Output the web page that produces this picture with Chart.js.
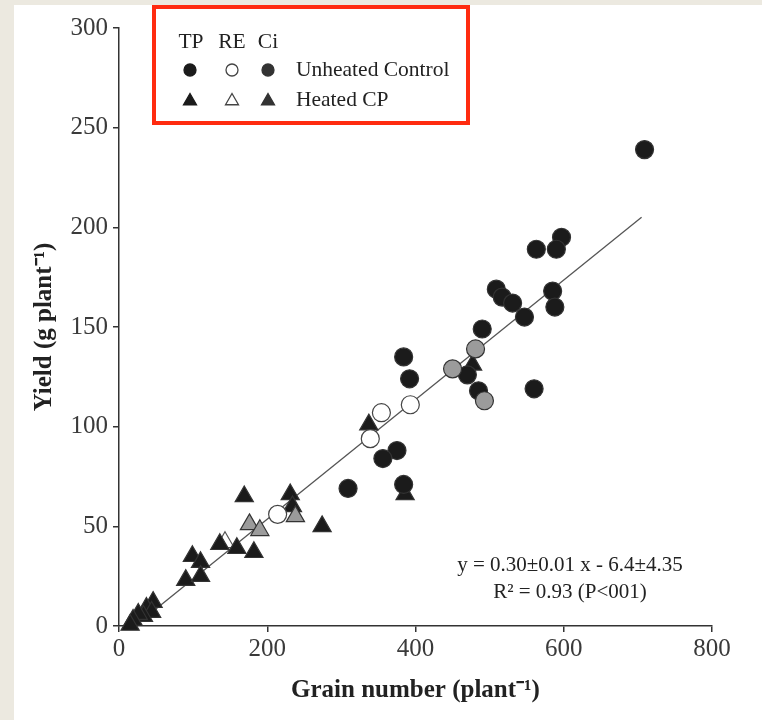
<!DOCTYPE html>
<html>
<head>
<meta charset="utf-8">
<script src="https://cdn.jsdelivr.net/npm/chart.js@4.4.0/dist/chart.umd.min.js"></script>
<style>
  html, body { margin: 0; padding: 0; background: #ece9e0; }
  #wrap { position: absolute; left: 14px; top: 5px; width: 748px; height: 715px; background: #fff; }
</style>
</head>
<body>
<div id="wrap"><canvas id="myChart" width="748" height="715"></canvas></div>
<script>
// Unheated control (circles)
const tpCtrlX = [709, 563, 597, 590, 509, 517, 531, 547, 585, 588, 490, 470, 485, 560, 384, 392, 375, 356, 309, 384];
const tpCtrlY = [239, 189, 195, 189, 169, 165, 162, 155, 168, 160, 149, 126, 118, 119, 135, 124, 88, 84, 69, 71];
const reCtrlX = [354, 393, 339, 214];
const reCtrlY = [107, 111, 94, 56];
const ciCtrlX = [450, 481, 493];
const ciCtrlY = [129, 139, 113];

// Heated CP (triangles)
const tpHeatX = [169, 231, 234, 274, 136, 159, 182, 99, 110, 90, 110, 46, 37, 44, 33, 26, 19, 15, 337, 386, 477];
const tpHeatY = [65, 66, 60, 50, 41, 39, 37, 35, 32, 23, 25, 12, 9, 7, 5, 6, 3, 0.5, 101, 66, 131];
const reHeatX = [143];
const reHeatY = [42];
const ciHeatX = [176, 190, 238];
const ciHeatY = [51, 48, 55];

// regression line end points
const fitX = [20, 705];
const fitY = [-0.4, 205];

const xTicks = [0, 200, 400, 600, 800];
const yTicks = [0, 50, 100, 150, 200, 250, 300];

function pts(xs, ys) {
  return xs.map((x, i) => ({ x: x, y: ys[i] }));
}

const serif = '"Liberation Serif", "Times New Roman", serif';
const BLACK = '#1b1b1b';
const GRAY = '#9b9b9b';

// legend box + equation
const extras = {
  id: 'extras',
  afterDraw(chart) {
    const ctx = chart.ctx;
    ctx.save();
    // red box
    ctx.strokeStyle = '#ff2b10';
    ctx.lineWidth = 4;
    ctx.strokeRect(140, 2, 314, 116);

    ctx.fillStyle = '#222';
    ctx.font = '21.5px ' + serif;
    ctx.textBaseline = 'middle';
    ctx.textAlign = 'center';
    ctx.fillText('TP', 177, 37);
    ctx.fillText('RE', 218, 37);
    ctx.fillText('Ci', 254, 37);
    ctx.textAlign = 'left';
    ctx.fillText('Unheated Control', 282, 65);
    ctx.fillText('Heated CP', 282, 95);

    const marks = [
      { x: 176, fill: BLACK, stroke: BLACK },
      { x: 218, fill: '#fff', stroke: '#444' },
      { x: 254, fill: '#333', stroke: '#333' }
    ];
    marks.forEach(m => {
      ctx.fillStyle = m.fill;
      ctx.strokeStyle = m.stroke;
      ctx.lineWidth = 1.3;
      Chart.helpers.drawPoint(ctx, { pointStyle: 'circle', radius: 6, borderWidth: 1.3 }, m.x, 65);
      Chart.helpers.drawPoint(ctx, { pointStyle: 'triangle', radius: 7.5, borderWidth: 1.3 }, m.x, 96);
    });

    // equation
    ctx.fillStyle = '#222';
    ctx.textAlign = 'center';
    ctx.font = '21px ' + serif;
    ctx.fillText('y = 0.30\u00b10.01 x - 6.4\u00b14.35', 556, 560);
    ctx.fillText('R\u00b2 = 0.93 (P<001)', 556, 587);
    ctx.restore();
  }
};

function circleSet(xs, ys, fill, stroke, order) {
  return {
    data: pts(xs, ys), pointStyle: 'circle', pointRadius: 9,
    backgroundColor: fill, borderColor: stroke, borderWidth: 1.2,
    clip: false, order: order
  };
}
function triSet(xs, ys, fill, stroke, order) {
  return {
    data: pts(xs, ys), pointStyle: 'triangle', pointRadius: 10.5,
    backgroundColor: fill, borderColor: stroke, borderWidth: 1.2,
    clip: false, order: order
  };
}

const ctx = document.getElementById('myChart');
new Chart(ctx, {
  type: 'scatter',
  data: {
    datasets: [
      {
        type: 'line', data: pts(fitX, fitY), borderColor: '#555', borderWidth: 1.3,
        pointRadius: 0, fill: false, order: 7
      },
      triSet(reHeatX, reHeatY, '#fff', '#555', 6),
      triSet(tpHeatX, tpHeatY, BLACK, '#333', 5),
      triSet(ciHeatX, ciHeatY, GRAY, '#333', 4),
      circleSet(tpCtrlX, tpCtrlY, BLACK, '#333', 3),
      circleSet(reCtrlX, reCtrlY, '#fff', '#444', 2),
      circleSet(ciCtrlX, ciCtrlY, GRAY, '#333', 1)
    ]
  },
  options: {
    responsive: false,
    animation: false,
    layout: { padding: { top: 23, right: 50, left: 0, bottom: 0 } },
    plugins: { legend: { display: false }, tooltip: { enabled: false } },
    scales: {
      x: {
        type: 'linear', min: 0, max: 800,
        afterBuildTicks: s => { s.ticks = xTicks.map(v => ({ value: v })); },
        afterFit: s => { s.height = 94; },
        grid: { drawOnChartArea: false, drawTicks: true, tickLength: 6, color: '#333', lineWidth: 1.5 },
        border: { display: true, color: '#333', width: 1.5 },
        ticks: { color: '#3a3a3a', padding: 2, font: { family: serif, size: 25 } },
        title: {
          display: true, text: 'Grain number (plant\u207b\u00b9)', color: '#222',
          font: { family: serif, size: 25, weight: 'bold' }, padding: { top: 0, bottom: 14 }
        }
      },
      y: {
        type: 'linear', min: 0, max: 300,
        afterBuildTicks: s => { s.ticks = yTicks.map(v => ({ value: v })); },
        afterFit: s => { s.width = 105; },
        grid: { drawOnChartArea: false, drawTicks: true, tickLength: 6, color: '#333', lineWidth: 1.5 },
        border: { display: true, color: '#333', width: 1.5 },
        ticks: { color: '#3a3a3a', padding: 5, font: { family: serif, size: 25 } },
        title: {
          display: true, text: 'Yield (g plant\u207b\u00b9)', color: '#222',
          font: { family: serif, size: 25, weight: 'bold' }, padding: { top: 16, bottom: 0 }
        }
      }
    }
  },
  plugins: [extras]
});
</script>
</body>
</html>
